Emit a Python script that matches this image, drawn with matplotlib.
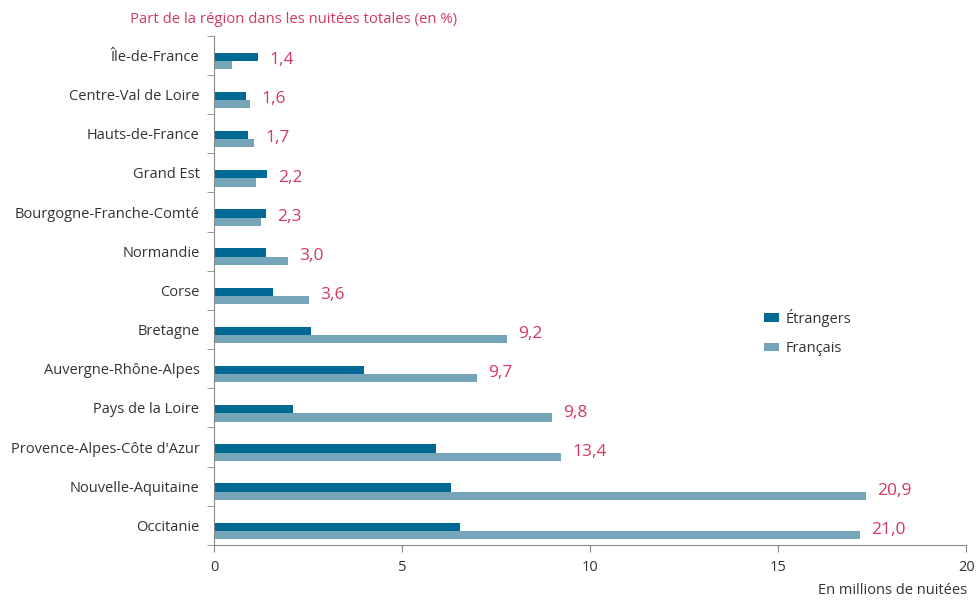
import numpy as np
import matplotlib
matplotlib.use("Agg")
import matplotlib.pyplot as plt

plt.rcParams['font.family'] = ['Open Sans', 'DejaVu Sans']

# Données (en millions de nuitées)
regions = ["Île-de-France", "Centre-Val de Loire", "Hauts-de-France", "Grand Est",
           "Bourgogne-Franche-Comté", "Normandie", "Corse", "Bretagne",
           "Auvergne-Rhône-Alpes", "Pays de la Loire", "Provence-Alpes-Côte d'Azur",
           "Nouvelle-Aquitaine", "Occitanie"]
etrangers = [1.17, 0.85, 0.90, 1.41, 1.38, 1.38, 1.56, 2.58, 4.00, 2.11, 5.91, 6.30, 6.54]
francais = [0.48, 0.96, 1.06, 1.12, 1.25, 1.97, 2.52, 7.78, 7.00, 8.99, 9.23, 17.34, 17.18]
parts = ["1,4", "1,6", "1,7", "2,2", "2,3", "3,0", "3,6", "9,2", "9,7", "9,8", "13,4", "20,9", "21,0"]

c_etr = "#006a94"
c_fr = "#76a5ba"
c_rouge = "#d4385f"

fig = plt.figure(figsize=(9.77, 6.04), dpi=100)
ax = fig.add_axes([0.219, 0.0977, 0.770, 0.843])

y = np.arange(len(regions))
h = 0.21
ax.barh(y + 0.035, etrangers, height=h, color=c_etr, label="Étrangers")
ax.barh(y + 0.245, francais, height=h, color=c_fr, label="Français")

for i in range(len(regions)):
    xm = max(etrangers[i], francais[i])
    ax.annotate(parts[i], (xm, y[i] + 0.12), xytext=(8, 0), textcoords="offset points",
                va="center", ha="left", color=c_rouge, fontsize=12.5)

ax.set_xlim(0, 20)
ax.set_ylim(len(regions) - 0.5, -0.5)
ax.set_xticks([0, 5, 10, 15, 20])
ax.set_yticks(y)
ax.set_yticklabels(regions)
ax.set_yticks(np.arange(-0.5, len(regions), 1), minor=True)
ax.tick_params(axis='y', which='major', length=0, pad=10.5, labelsize=10.5, labelcolor="#333333")
ax.tick_params(axis='y', which='minor', length=5, color="#888888", direction="out")
ax.tick_params(axis='x', length=5, color="#888888", labelsize=10.5, labelcolor="#333333", pad=6)

for s in ["top", "right"]:
    ax.spines[s].set_visible(False)
for s in ["left", "bottom"]:
    ax.spines[s].set_color("#888888")

ax.legend(loc="upper left", bbox_to_anchor=(0.714, 0.49), frameon=False,
          handlelength=1.0, handleheight=0.5, handletextpad=0.5, fontsize=10.5,
          labelspacing=1.0, labelcolor="#333333")

fig.text(0.133, 0.967, "Part de la région dans les nuitées totales (en %)",
         color=c_rouge, fontsize=10.7, ha="left", va="center")
fig.text(0.99, 0.01, "En millions de nuitées", color="#333333", fontsize=10.5,
         ha="right", va="bottom")

fig.savefig("out.png", dpi=100)
